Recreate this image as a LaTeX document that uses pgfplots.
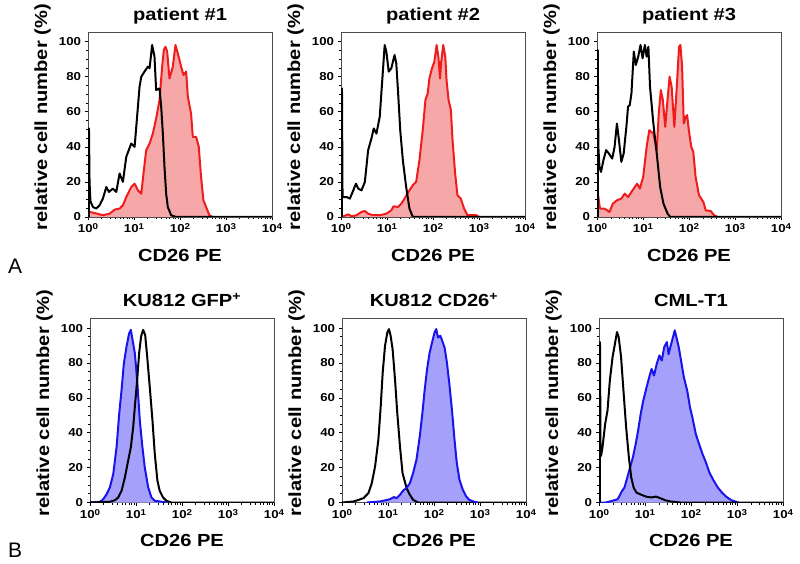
\documentclass[border=0pt]{standalone}
\usepackage{fontspec}
\setmainfont{Liberation Sans}[FakeStretch=1.15]
\newfontfamily\plainfont{Liberation Sans}
\usepackage{pgfplots}
\usepackage{pgfplotstable}
\pgfplotsset{compat=1.18}
\definecolor{redline}{RGB}{240,28,28}
\definecolor{redfill}{RGB}{246,168,168}
\definecolor{blueline}{RGB}{25,20,235}
\definecolor{bluefill}{RGB}{165,160,250}

\newcommand{\tl}[1]{10\raisebox{0.25em}{\fontsize{8.5}{9}\selectfont #1}}

\pgfplotsset{
 histax/.style={
   xmin=1, xmax=10000, ymin=0, ymax=105.5,
   scale only axis, width=184pt, height=185pt,
   anchor=south west,
   axis line style={black!70, line width=0.7pt},
   tick pos=left, tick align=outside,
   major tick length=3.5pt, minor tick length=2pt,
   every tick/.style={black, line width=0.7pt},
   xtick={1,10,100,1000,10000},
   xticklabels={\tl{0},\tl{1},\tl{2},\tl{3},\tl{4}},
   minor xtick={2,3,4,5,6,7,8,9,20,30,40,50,60,70,80,90,200,300,400,500,600,700,800,900,2000,3000,4000,5000,6000,7000,8000,9000},
   ytick={0,20,40,60,80,100},
   yticklabels={0,20,40,60,80,100},
   minor ytick={5,10,15,25,30,35,45,50,55,65,70,75,85,90,95},
   tick label style={font=\fontsize{11.5}{12}\selectfont\bfseries},
   xlabel={CD26 PE}, ylabel={relative cell number (\%)},
   label style={font=\fontsize{17.5}{20}\selectfont\bfseries},
   xlabel style={at={(axis description cs:0.5,-0.238)}, anchor=base},
   ylabel style={at={(axis description cs:-0.222,0.54)}, anchor=base},
   title style={font=\fontsize{17.5}{20}\selectfont\bfseries, at={(axis description cs:0.5,1.03)}, anchor=base},
 },
 fillred/.style={draw=none, fill=redfill},
 linered/.style={draw=redline, line width=2pt, line join=round},
 fillblue/.style={draw=none, fill=bluefill},
 lineblue/.style={draw=blueline, line width=2pt, line join=round},
 lineblack/.style={draw=black, line width=2pt, line join=round},
}

% ---------- patient #1 ----------
\pgfplotstableread{
x y
1.05 0
1.05 50.5
1.08 20
1.13 9
1.28 5.7
1.51 4.8
1.79 6.7
2.11 10.5
2.50 17.1
2.85 14.3
3.48 16.2
4.12 14.3
4.86 24.8
5.74 20.0
6.79 34.3
8.71 41.9
10.3 40.0
11.2 51.4
13.2 74.3
14.4 80.0
16.9 82.9
20.0 85.7
21.8 84.8
24.8 98.1
27.9 91.4
30.3 72.4
35.9 73.3
39.0 62.9
42.4 47.6
46.0 28.6
50.0 13.3
54.3 5.7
64.3 1.0
82.4 0
10000 0
}\pOneBlack
\pgfplotstableread{
x y
1.00 3
1.05 3
1.52 2
2.11 1
2.95 1.9
3.79 4.2
4.86 4.8
5.74 6.7
6.79 11.4
8.71 17.1
10.3 19
12.2 15.2
14.4 13.3
16.1 24.8
18.4 38.1
21.8 41.9
25.7 47.6
30.3 56.2
35.9 66.7
40.9 85.7
44.5 95.2
48.4 97.1
52.6 94.3
59.1 79
69.8 85.7
79.8 98.1
89.6 93.3
106 85.7
119 81
136 82.9
148 68.6
174 59
190 45.7
224 45.7
256 40
287 22.9
323 9.5
369 5.7
436 1
514 0
}\pOneRed
% ---------- patient #2 ----------
\pgfplotstableread{
x y
1.05 0
1.05 73.3
1.08 11.4
1.16 11.4
1.33 11.4
1.56 10.5
1.85 15.2
2.11 19
2.37 16.2
2.79 15.2
3.30 20
3.89 38.1
4.59 44.8
5.15 50.5
5.89 47.6
6.95 57.1
7.80 76.2
8.91 98.1
9.68 94.3
10.9 82.9
12.4 84.8
14.6 92.4
15.9 87.6
17.3 72.4
19.4 49.5
22.1 32.4
26.1 17.1
30.8 4.8
36.4 0
10000 0
}\pTwoBlack
\pgfplotstableread{
x y
1.00 0
1.12 0.4
1.44 1.5
1.70 0.4
2.18 1
2.79 2.9
3.30 3.4
3.89 1.9
4.99 1
6.95 1
9.68 1.9
12.4 3.8
13.9 6.1
17.3 5.7
20.4 7.6
24.1 10.5
30.8 15.2
36.4 18.1
43.0 20
50.7 32.4
59.8 49.5
68.4 66.7
76.7 70.5
83.4 79
95.1 84.8
107 88.6
120 98.1
132 90.5
142 79
151 88.6
167 98.1
185 91.4
197 78.1
218 66.7
245 61
266 43.8
303 24.8
340 12.4
402 10.5
474 4.8
560 1
718 1
875 1
1000 0
}\pTwoRed
% ---------- patient #3 ----------
\pgfplotstableread{
x y
1.04 0
1.04 95.2
1.07 40
1.13 28.6
1.22 25.7
1.38 32.4
1.58 38.1
1.81 36.2
2.14 33.3
2.41 40
2.71 53.3
3.00 43.8
3.38 31.4
3.80 36.2
4.35 51.4
4.73 62.9
5.15 63.8
5.61 70.5
6.31 94.3
6.98 86.7
7.86 91.4
8.85 98.1
9.79 90.5
11.0 98.1
12.0 91.4
13.1 97.1
14.2 74.3
16.8 53.3
19.9 36.2
23.6 17.1
27.9 7.6
34.2 1.9
39.1 0
10000 0
}\pThreeBlack
\pgfplotstableread{
x y
1.00 17.1
1.16 4.8
1.45 4.8
1.87 2.9
2.21 7.6
2.71 9.5
3.38 10.5
4.00 13.3
4.73 11.4
5.61 14.3
6.64 17.1
7.47 19
8.55 16.2
10.1 22.9
12.0 40
13.7 49.5
16.8 47.6
19.9 38.1
22.0 59
24.4 72.4
27.0 66.7
30.4 51.4
33.1 62.9
37.8 80
41.9 74.3
48.0 51.4
54.8 76.2
60.7 97.1
65.0 98.1
70.8 85.7
77.0 53.3
85.1 57.1
91.2 58.1
99.1 49.5
112 40
124 37.1
139 22.9
165 12.4
205 8.6
231 3.8
297 3.4
352 1
417 0
}\pThreeRed
% ---------- KU812 GFP+ ----------
\pgfplotstableread{
x y
1.00 0
1.65 0.4
1.94 1.9
2.30 4.8
2.71 8.7
3.20 16.3
3.78 31.7
4.32 51
4.85 64.4
5.45 79.8
6.22 89.4
7.11 97.1
7.73 99
8.40 93.3
9.44 85.6
10.6 70.2
12.1 47.1
13.8 31.7
15.5 20.2
18.4 8.7
21.7 2.9
25.6 1
32.8 0.6
45.8 0
}\pFourBlue
\pgfplotstableread{
x y
1.00 0
2.71 0.4
3.48 1.3
4.11 2.9
4.85 6.7
5.73 14.4
6.76 24
7.73 31.7
8.69 43.3
9.44 54.8
10.6 70.2
11.7 85.6
12.9 95.2
14.3 99
15.8 96.2
17.5 83.7
19.9 66.3
22.8 47.1
25.6 27.9
29.2 12.5
32.8 6.7
38.7 2.9
45.8 1
58.7 0
10000 0
}\pFourBlack
% ---------- KU812 CD26+ ----------
\pgfplotstableread{
x y
1.00 0
1.79 0.6
2.29 1.5
2.94 2.5
3.76 5.4
4.44 11.1
5.24 20.7
6.18 36.1
6.95 55.3
7.67 74.5
8.61 89.8
9.68 97.5
10.5 99.4
11.4 95.6
12.6 87.9
14.2 70.6
15.9 51.4
18.2 32.2
20.7 16.9
25.3 8.3
29.9 4.4
35.2 1.5
45.2 0
10000 0
}\pFiveBlack
\pgfplotstableread{
x y
3.47 0
6.71 0.6
8.61 1.2
11.0 1.9
13.5 3.1
15.4 2.5
18.2 4.4
21.4 6.9
25.3 8.3
29.9 11.1
35.2 16.9
41.6 24.6
49.1 38
56.0 51.4
62.9 64.9
70.6 76.4
80.5 86
90.6 91.7
103 97.5
112 99.4
122 94.6
137 95.6
151 92.7
170 88.8
191 80.2
218 66.8
249 51.4
279 36.1
313 22.6
358 13.1
423 7.3
499 3.5
589 1.5
755 0.4
900 0
}\pFiveBlue
% ---------- CML-T1 ----------
\pgfplotstableread{
x y
1.05 0
1.05 92
1.08 27
1.11 26.8
1.19 31.6
1.36 45
1.53 52.7
1.72 69.9
1.97 83.3
2.22 91
2.46 97.7
2.68 94.8
3.02 83.3
3.40 64.2
3.89 43.1
4.46 25.9
5.02 14.4
5.66 8.6
6.49 5.7
8.37 4.4
10.8 3.3
13.9 2.9
17.4 3.4
21.3 2.5
27.5 1.3
35.5 0.6
59.0 0
10000 0
}\pSixBlack
\pgfplotstableread{
x y
1.00 0
1.41 0
1.97 1
2.55 1.9
3.18 6.7
3.58 8.6
4.03 13.4
4.61 19
5.47 26
6.27 33.5
7.06 41
8.09 51
9.10 58
10.8 66
12.4 72
13.9 76.6
15.7 72.8
18.0 79.5
20.6 84.3
23.2 81.4
26.1 89
29.9 92
32.6 85
35.5 89
40.6 94.8
44.3 98.7
48.2 94.8
54.2 89
61.1 81
70.0 71.8
83.0 64
95.0 54.6
107 48.9
127 39.3
150 33.5
178 27.8
211 23
251 17.2
312 12.5
383 8.6
470 5.7
586 3.3
755 1.3
1062 0
}\pSixBlue

\begin{document}
\begin{tikzpicture}
\useasboundingbox (0,0) rectangle (800pt,563pt);

\begin{semilogxaxis}[histax, at={(88pt,346pt)}, title={patient \#1}]
\addplot[fillred] table {\pOneRed} \closedcycle;
\addplot[linered] table {\pOneRed};
\addplot[lineblack] table {\pOneBlack};
\end{semilogxaxis}

\begin{semilogxaxis}[histax, at={(341pt,346pt)}, title={patient \#2}]
\addplot[fillred] table {\pTwoRed} \closedcycle;
\addplot[linered] table {\pTwoRed};
\addplot[lineblack] table {\pTwoBlack};
\end{semilogxaxis}

\begin{semilogxaxis}[histax, at={(597pt,346pt)}, title={patient \#3}]
\addplot[fillred] table {\pThreeRed} \closedcycle;
\addplot[linered] table {\pThreeRed};
\addplot[lineblack] table {\pThreeBlack};
\end{semilogxaxis}

\begin{semilogxaxis}[histax, at={(90pt,60.5pt)}, height=184pt, title={KU812 GFP\textsuperscript{+}}]
\addplot[fillblue] table {\pFourBlue} \closedcycle;
\addplot[lineblue] table {\pFourBlue};
\addplot[lineblack] table {\pFourBlack};
\end{semilogxaxis}

\begin{semilogxaxis}[histax, at={(342pt,60.5pt)}, height=184pt, title={KU812 CD26\textsuperscript{+}}]
\addplot[fillblue] table {\pFiveBlue} \closedcycle;
\addplot[lineblack] table {\pFiveBlack};
\addplot[lineblue] table {\pFiveBlue};
\end{semilogxaxis}

\begin{semilogxaxis}[histax, at={(599pt,60.5pt)}, height=184pt, title={CML-T1}]
\addplot[fillblue] table {\pSixBlue} \closedcycle;
\addplot[lineblue] table {\pSixBlue};
\addplot[lineblack] table {\pSixBlack};
\end{semilogxaxis}

\node[anchor=base west, inner sep=0pt, font=\plainfont\fontsize{21}{24}\selectfont] at (8pt,290pt) {A};
\node[anchor=base west, inner sep=0pt, font=\plainfont\fontsize{21}{24}\selectfont] at (8pt,6pt) {B};
\end{tikzpicture}
\end{document}
